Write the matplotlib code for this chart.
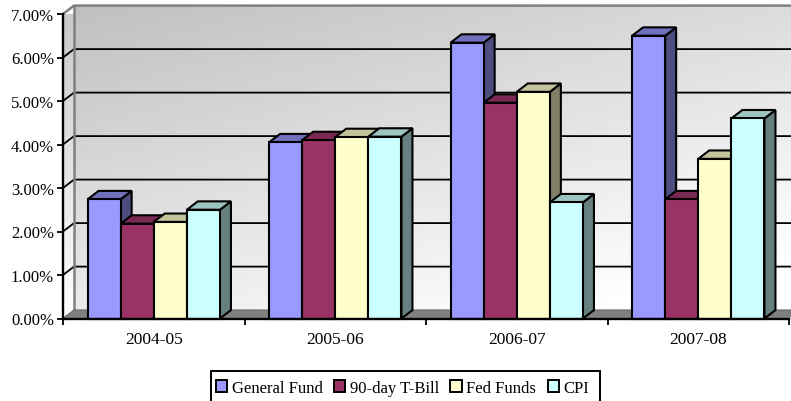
import numpy as np
import matplotlib
matplotlib.use("Agg")
import matplotlib.pyplot as plt
from matplotlib.patches import Patch, Polygon, Rectangle

plt.rcParams["font.family"] = ["Liberation Serif", "DejaVu Serif"]

years = ["2004-05", "2005-06", "2006-07", "2007-08"]
general_fund = [2.74, 4.05, 6.34, 6.50]
tbill = [2.18, 4.10, 4.96, 2.74]
fed_funds = [2.22, 4.17, 5.21, 3.67]
cpi = [2.50, 4.18, 2.67, 4.60]

names = ["General Fund", "90-day T-Bill", "Fed Funds", "CPI"]
series = [general_fund, tbill, fed_funds, cpi]
# front, top, side shades for each series
front = ["#9999ff", "#993366", "#ffffcc", "#ccffff"]
top = ["#7070bd", "#7a2952", "#c4c49c", "#9cc4c0"]
side = ["#4d4d80", "#4d1a33", "#808066", "#668080"]

W, H = 791, 402
fig = plt.figure(figsize=(W / 100, H / 100), dpi=100)
ax = fig.add_axes([63 / W, 1 - 319.5 / H, 726 / W, 304.5 / H])
ax.set_xlim(0, 4)
ax.set_ylim(0, 7)

# depth of the fake 3d box, in data units
dx = 11 / (726 / 4)
dy = 8.4 / (304.5 / 7)

# back wall gradient, dark at top left to white at bottom right
gx, gy = np.meshgrid(np.linspace(0, 1, 200), np.linspace(0, 1, 200))
shade = np.clip(0.75 + 0.11 * gx + 0.17 * gy + 0.0 * gx * gy, 0, 1)
ax.imshow(shade, cmap="gray", vmin=0, vmax=1, origin="upper", aspect="auto",
          extent=[dx, 4 + dx, dy, 7 + dy], clip_on=False, zorder=1)

# left side wall
side_wall = Polygon([(0, 0), (dx, dy), (dx, 7 + dy), (0, 7)], closed=True,
                    facecolor="none", edgecolor="none", clip_on=False,
                    transform=ax.transData)
ax.add_patch(side_wall)
wall_shade = np.linspace(0.78, 1.0, 200).reshape(-1, 1)
im = ax.imshow(wall_shade, cmap="gray", vmin=0, vmax=1, origin="upper", aspect="auto",
               extent=[0, dx, 0, 7 + dy], zorder=1)
im.set_clip_path(side_wall)

# floor
ax.add_patch(Polygon([(0, 0), (dx, dy), (4 + dx, dy), (4, 0)], closed=True,
                     facecolor="#808080", edgecolor="none", clip_on=False, zorder=2))

# grid lines run along the side wall and the back wall
for v in range(1, 7):
    ax.plot([0, dx, 4 + dx], [v, v + dy, v + dy], color="black", lw=1.3,
            clip_on=False, zorder=3, solid_joinstyle="miter")

# wall outline
ax.plot([0, dx, 4 + dx], [7, 7 + dy, 7 + dy], color="#808080", lw=1.8, clip_on=False, zorder=3)
ax.plot([dx, dx], [dy, 7 + dy], color="#808080", lw=1.8, clip_on=False, zorder=3)
ax.plot([0, dx, 4 + dx], [0, dy, dy], color="#6e6e6e", lw=1.0, clip_on=False, zorder=3)

bar_w = 33.1 / (726 / 4)
z = 4
for i in range(len(years)):
    left = i + 0.5 - 2 * bar_w
    for j, vals in enumerate(series):
        x0 = left + j * bar_w
        x1 = x0 + bar_w
        v = vals[i]
        ax.add_patch(Polygon([(x1, 0), (x1 + dx, dy), (x1 + dx, v + dy), (x1, v)], closed=True,
                             facecolor=side[j], edgecolor="black", lw=1.5, clip_on=False, zorder=z))
        ax.add_patch(Polygon([(x0, v), (x0 + dx, v + dy), (x1 + dx, v + dy), (x1, v)], closed=True,
                             facecolor=top[j], edgecolor="black", lw=1.5, clip_on=False, zorder=z))
        ax.add_patch(Rectangle((x0, 0), bar_w, v, facecolor=front[j], edgecolor="black",
                               lw=1.5, clip_on=False, zorder=z + 1))
        z += 2

for s in ["top", "right"]:
    ax.spines[s].set_visible(False)
for s in ["left", "bottom"]:
    ax.spines[s].set_linewidth(1.7)
    ax.spines[s].set_zorder(200)

ax.set_yticks(range(8))
ax.set_yticklabels(["%.2f%%" % v for v in range(8)], fontsize=12)
ax.set_xticks(range(5))
ax.set_xticklabels([])
ax.set_xticks(np.arange(4) + 0.5, labels=years, minor=True, fontsize=12.5)
ax.tick_params(axis="x", which="major", length=4, width=1.3)
ax.tick_params(axis="x", which="minor", length=0, pad=9)
ax.tick_params(axis="y", length=4, width=1.3, pad=2.5)

# legend frame is drawn by hand so its right margin can be wider than the left;
# it runs off the bottom of the figure
fig.add_artist(Rectangle((210.5 / W, 1 - 404 / H), 389 / W, 32 / H, transform=fig.transFigure,
                         facecolor="white", edgecolor="black", lw=1.4, zorder=-1))
handles = [Patch(facecolor=c, edgecolor="black", lw=1.4) for c in front]
leg = ax.legend(handles, names, ncol=4, loc="lower left",
                bbox_to_anchor=(216 / W, 5 / H), bbox_transform=fig.transFigure,
                fontsize=12, frameon=False,
                handlelength=0.68, handleheight=0.68, handletextpad=0.25,
                columnspacing=0.7, borderpad=0, borderaxespad=0)
leg.set_zorder(300)

fig.savefig("out.png", dpi=100)
